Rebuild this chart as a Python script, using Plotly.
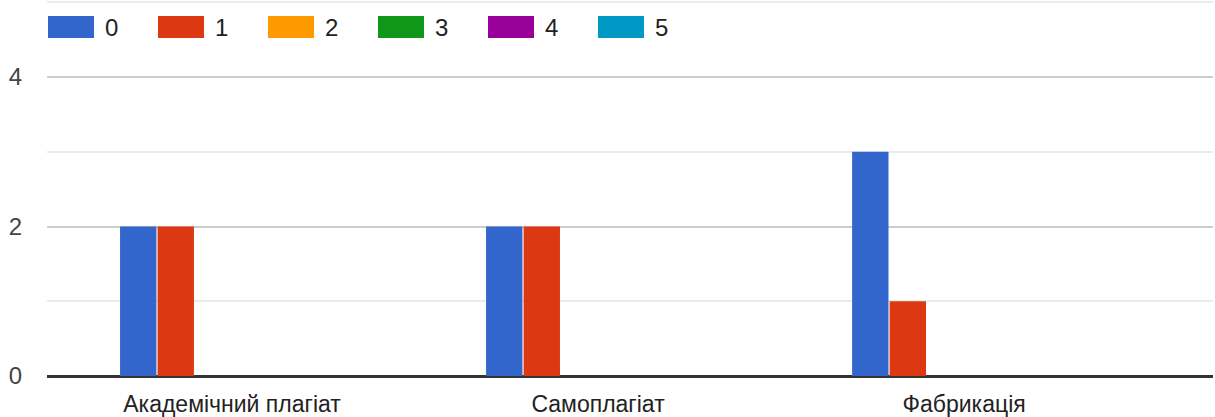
import plotly.graph_objects as go

categories = ["Академічний плагіат", "Самоплагіат", "Фабрикація"]
series_names = ["0", "1", "2", "3", "4", "5"]
series_values = [
    [2, 2, 3],
    [2, 2, 1],
    [0, 0, 0],
    [0, 0, 0],
    [0, 0, 0],
    [0, 0, 0],
]
colors = ["#3366cc", "#dc3912", "#ff9900", "#109618", "#990099", "#0099c6"]
y_major_ticks = [0, 2, 4]
y_minor_ticks = [1, 3, 5]

FONT = "Arial, 'Liberation Sans', sans-serif"

fig = go.Figure()
for name, vals, col in zip(series_names, series_values, colors):
    fig.add_trace(go.Bar(x=categories, y=vals, name=name, marker_color=col,
                         marker_line_width=0, showlegend=False))

# custom legend (wide swatches like the reference)
for i, (name, col) in enumerate(zip(series_names, colors)):
    x0 = 1 + i * 110
    fig.add_shape(type="rect", xref="paper", yref="paper",
                  xsizemode="pixel", ysizemode="pixel",
                  xanchor=0, yanchor=1,
                  x0=x0, x1=x0 + 46, y0=-16, y1=-38,
                  fillcolor=col, line_width=0, layer="above")
    fig.add_annotation(xref="paper", yref="paper", x=0, y=1,
                       xshift=x0 + 55, yshift=-27,
                       xanchor="left", yanchor="middle", showarrow=False,
                       text=name, font=dict(family=FONT, size=24, color="#222222"))

fig.update_layout(
    width=1215, height=417,
    margin=dict(l=47, r=2, t=0, b=41),
    paper_bgcolor="white", plot_bgcolor="white",
    barmode="group", bargap=0.385, bargroupgap=0.03,
    font=dict(family=FONT),
)
fig.update_xaxes(
    type="category", range=[-0.5055, 2.68],
    showgrid=False, showline=False, ticks="",
    ticklabelstandoff=12,
    tickfont=dict(family=FONT, size=23, color="#222222"),
)
fig.update_yaxes(
    range=[0, 5.03], tickvals=y_major_ticks,
    showgrid=True, gridcolor="#cccccc", gridwidth=2,
    minor=dict(tickvals=y_minor_ticks, showgrid=True, gridcolor="#ebebeb", gridwidth=2, ticks=""),
    zeroline=True, zerolinecolor="#333333", zerolinewidth=2.5,
    ticks="", ticklabelstandoff=24,
    tickfont=dict(family=FONT, size=24, color="#444444"),
)

fig.write_html(
    "out.html",
    config={"responsive": False, "displayModeBar": False},
    post_script="document.body.style.margin='0';document.body.style.padding='0';document.body.style.overflow='hidden';",
)
